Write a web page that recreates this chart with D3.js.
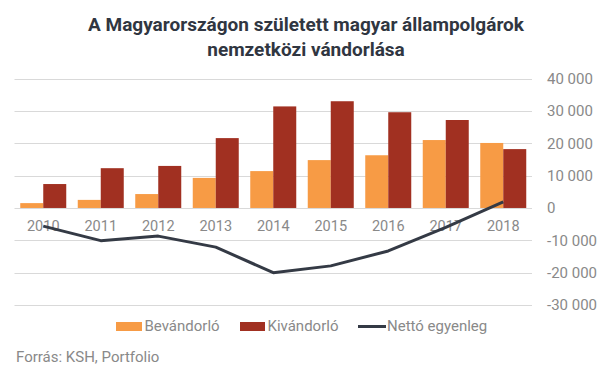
<!DOCTYPE html>
<html>
<head>
<meta charset="utf-8">
<script src="https://cdn.jsdelivr.net/npm/d3@7/dist/d3.min.js"></script>
<style>
  html, body { margin: 0; padding: 0; background: #fff; }
  svg { display: block; font-family: Roboto, "Noto Sans", sans-serif; }
</style>
</head>
<body>
<svg id="chart" width="605" height="378"></svg>
<script>
const years = ["2010","2011","2012","2013","2014","2015","2016","2017","2018"];
const immigrants = [1500, 2500, 4300, 9300, 11400, 14800, 16300, 21000, 20100];
const emigrants = [7400, 12300, 13000, 21600, 31400, 33000, 29600, 27200, 18200];
const net = [-5600, -10100, -8700, -12100, -20000, -17900, -13300, -6000, 1900];
const yTicks = [-30000, -20000, -10000, 0, 10000, 20000, 30000, 40000];
const seriesNames = ["Bevándorló", "Kivándorló", "Nettó egyenleg"];
const titleLines = ["A Magyarországon született magyar állampolgárok", "nemzetközi vándorlása"];
const source = "Forrás: KSH, Portfolio";

const colors = { imm: "#F79B45", emi: "#A13021", net: "#343A45", grid: "#D9D9D9", text: "#898989", title: "#303641" };

const svg = d3.select("#chart");

const x = d3.scaleBand().domain(years).range([14.5, 532]).paddingInner(0.2).paddingOuter(0.1);
const xs = d3.scaleBand().domain(["imm", "emi"]).range([0, x.bandwidth()]);
const y = d3.scaleLinear().domain([-30000, 40000]).range([305, 78.6]);

const fmt = v => d3.format(",")(v).replace(/,/g, " ").replace("−", "-");

// gridlines
svg.append("g").selectAll("line").data(yTicks).join("line")
  .attr("x1", 14.5).attr("x2", 532)
  .attr("y1", d => Math.round(y(d)) + 0.5).attr("y2", d => Math.round(y(d)) + 0.5)
  .attr("stroke", colors.grid).attr("stroke-width", 1);

// right axis labels
const yAxis = d3.axisRight(y).tickValues(yTicks).tickFormat(fmt).tickSize(0).tickPadding(0);
const ga = svg.append("g").attr("transform", "translate(547,0)").call(yAxis);
ga.select(".domain").remove();
ga.selectAll("text").attr("fill", colors.text).style("font-size", "15px").style("font-family", "Roboto");

// bars
const groups = svg.append("g").selectAll("g").data(years).join("g")
  .attr("transform", d => `translate(${x(d)},0)`);
groups.append("rect")
  .attr("x", xs("imm")).attr("width", xs.bandwidth())
  .attr("y", (d, i) => y(immigrants[i])).attr("height", (d, i) => y(0) - y(immigrants[i]))
  .attr("fill", colors.imm);
groups.append("rect")
  .attr("x", xs("emi")).attr("width", xs.bandwidth())
  .attr("y", (d, i) => y(emigrants[i])).attr("height", (d, i) => y(0) - y(emigrants[i]))
  .attr("fill", colors.emi);

// category labels
const xAxis = d3.axisBottom(x).tickSize(0).tickPadding(0);
const gx = svg.append("g").attr("transform", `translate(0,${y(0) + 13})`).call(xAxis);
gx.select(".domain").remove();
gx.selectAll("text").attr("fill", colors.text).style("font-size", "14.5px").style("font-family", "Roboto");

// net line
const line = d3.line().x((d, i) => x(years[i]) + x.bandwidth() / 2).y(d => y(d));
svg.append("path").datum(net).attr("d", line)
  .attr("fill", "none").attr("stroke", colors.net).attr("stroke-width", 3)
  .attr("stroke-linejoin", "round");

// title
const tw = [437, 200];
titleLines.forEach((t, i) => {
  const el = svg.append("text").attr("x", 306).attr("y", 31 + i * 24.5)
    .attr("text-anchor", "middle").attr("fill", colors.title)
    .style("font-size", "19px").style("font-weight", "bold").text(t);
  const len = el.node().getComputedTextLength();
  if (len > tw[i]) el.attr("textLength", tw[i]).attr("lengthAdjust", "spacingAndGlyphs");
});

// legend
const leg = svg.append("g");
leg.append("rect").attr("x", 116).attr("y", 322).attr("width", 26).attr("height", 9).attr("fill", colors.imm);
leg.append("text").attr("x", 144.5).attr("y", 331).text(seriesNames[0]);
leg.append("rect").attr("x", 240).attr("y", 322).attr("width", 25).attr("height", 9).attr("fill", colors.emi);
leg.append("text").attr("x", 267.5).attr("y", 331).text(seriesNames[1]);
leg.append("line").attr("x1", 358).attr("x2", 386).attr("y1", 326.5).attr("y2", 326.5)
  .attr("stroke", colors.net).attr("stroke-width", 3);
leg.append("text").attr("x", 387).attr("y", 331).text(seriesNames[2]);
leg.selectAll("text").attr("fill", colors.text).style("font-size", "15px");

// source
svg.append("text").attr("x", 16).attr("y", 362).attr("fill", colors.text)
  .style("font-size", "15px").text(source);
</script>
</body>
</html>
